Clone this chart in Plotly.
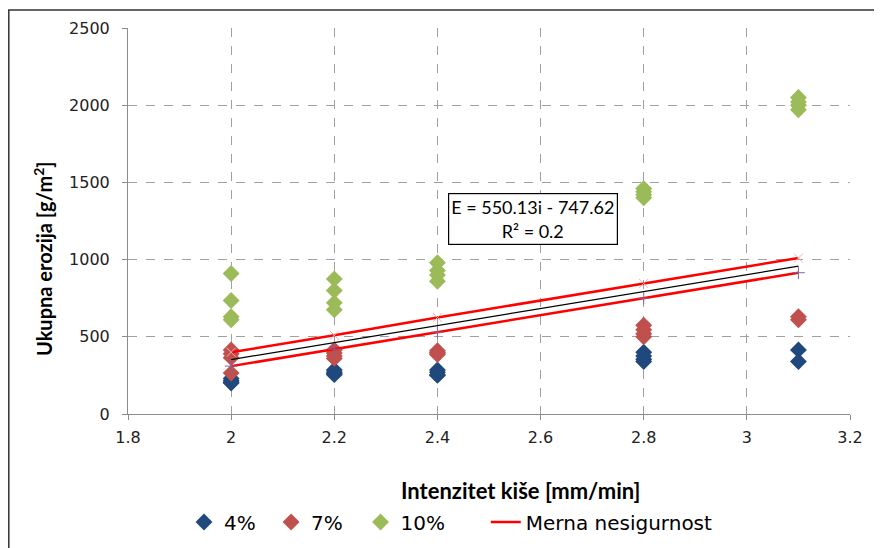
import plotly.graph_objects as go

# ---- data ----
x_4 = [2, 2, 2, 2, 2.2, 2.2, 2.2, 2.2, 2.4, 2.4, 2.4, 2.4, 2.8, 2.8, 2.8, 2.8, 3.1, 3.1]
y_4 = [230, 215, 205, 200, 285, 270, 260, 255, 285, 270, 255, 250, 400, 375, 355, 340, 415, 340]
x_7 = [2, 2, 2, 2, 2.2, 2.2, 2.2, 2.2, 2.4, 2.4, 2.4, 2.4, 2.8, 2.8, 2.8, 2.8, 3.1, 3.1]
y_7 = [415, 390, 365, 265, 415, 395, 375, 360, 410, 400, 395, 385, 575, 545, 520, 500, 630, 610]
x_10 = [2, 2, 2, 2, 2.2, 2.2, 2.2, 2.2, 2.4, 2.4, 2.4, 2.4, 2.8, 2.8, 2.8, 2.8, 3.1, 3.1, 3.1, 3.1]
y_10 = [910, 735, 630, 610, 875, 800, 720, 675, 980, 930, 900, 860, 1460, 1440, 1420, 1400, 2050, 2020, 2000, 1970]

bound_x = [2, 2.2, 2.4, 2.8, 3.1]
upper_y = [400, 510, 625, 845, 1010]
lower_y = [310, 420, 530, 750, 915]

trend_x = [2, 3.1]
trend_y = [352.6, 957.8]

x_ticks = [1.8, 2, 2.2, 2.4, 2.6, 2.8, 3, 3.2]
y_ticks = [0, 500, 1000, 1500, 2000, 2500]

series_names = ["4%", "7%", "10%", "Merna nesigurnost"]

# ---- layout constants (screen pixels of the reference) ----
OFF = 8                     # page body margin
W, H = 882 - OFF, 548 - OFF
L, R, T, B = 128 - OFF, 850 - OFF, 28 - OFF, 414 - OFF

def px(xp):
    return (xp - OFF - L) / (R - L)

def py(yp):
    return (B - (yp - OFF)) / (B - T)

NB = "\u00a0"
legend_pad = [NB + "\u2009", NB * 2, NB * 5 + "\u2009", ""]

fig = go.Figure()

mk = dict(symbol="diamond", size=13, line=dict(width=0))
fig.add_trace(go.Scatter(x=x_4, y=y_4, mode="markers", name=series_names[0] + legend_pad[0],
                         marker=dict(color="#1F497D", **mk)))
fig.add_trace(go.Scatter(x=x_7, y=y_7, mode="markers", name=series_names[1] + legend_pad[1],
                         marker=dict(color="#C0504D", **mk)))
fig.add_trace(go.Scatter(x=x_10, y=y_10, mode="markers", name=series_names[2] + legend_pad[2],
                         marker=dict(color="#9BBB59", **mk)))

fig.add_trace(go.Scatter(x=trend_x, y=trend_y, mode="lines", showlegend=False,
                         line=dict(color="black", width=1.2), hoverinfo="skip"))
fig.add_trace(go.Scatter(x=bound_x, y=upper_y, mode="lines", name=series_names[3],
                         line=dict(color="#FF0000", width=2.5)))
fig.add_trace(go.Scatter(x=bound_x, y=lower_y, mode="lines", showlegend=False,
                         line=dict(color="#FF0000", width=2.5)))
fig.add_trace(go.Scatter(x=bound_x, y=upper_y, mode="markers", showlegend=False,
                         marker=dict(symbol="x-thin", size=9, color="#F4B0B0",
                                     line=dict(width=1, color="#F4B0B0"))))
fig.add_trace(go.Scatter(x=bound_x, y=lower_y, mode="markers", showlegend=False,
                         marker=dict(symbol="cross-thin", size=9, color="#8064A2",
                                     line=dict(width=1, color="#8064A2"))))

tickfont = dict(family="DejaVu Sans", size=16, color="#222222")
fig.update_xaxes(range=[1.8, 3.2], tickvals=x_ticks, ticktext=[str(v) for v in x_ticks],
                 showgrid=True, gridcolor="#A0A0A0", griddash="dash", gridwidth=1,
                 showline=True, linecolor="#8C8C8C", linewidth=1,
                 ticks="outside", ticklen=5, tickcolor="#8C8C8C",
                 zeroline=False, tickfont=tickfont, automargin=False,
                 ticklabelstandoff=4)
fig.update_yaxes(range=[0, 2500], tickvals=y_ticks,
                 showgrid=True, gridcolor="#A0A0A0", griddash="dash", gridwidth=1,
                 showline=True, linecolor="#8C8C8C", linewidth=1,
                 ticks="outside", ticklen=5, tickcolor="#8C8C8C",
                 zeroline=False, tickfont=tickfont, automargin=False,
                 ticklabelstandoff=9)

# axis titles (placed where the reference puts them)
fig.add_annotation(xref="paper", yref="paper", x=px(43), y=py(259),
                   text="<b>Ukupna erozija [g/m<sup>2</sup>]</b>", textangle=-90,
                   showarrow=False, xanchor="center", yanchor="middle",
                   font=dict(family="Lato", size=20, color="black"))
fig.add_annotation(xref="paper", yref="paper", x=px(520), y=py(490),
                   text="<b>Intenzitet kiše [mm/min]</b>",
                   showarrow=False, xanchor="center", yanchor="middle",
                   font=dict(family="Lato", size=22, color="black"))

fig.add_annotation(x=2.585, y=1265, xref="x", yref="y",
                   text="E = 550.13i - 747.62<br>R² = 0.2", showarrow=False,
                   font=dict(family="Lato", size=18, color="black"),
                   bgcolor="white", bordercolor="black", borderwidth=1.2,
                   borderpad=2, align="center")

fig.add_shape(type="rect", xref="paper", yref="paper",
              x0=px(8.8), x1=px(877), y0=py(560), y1=py(10),
              line=dict(color="#333333", width=1.5), layer="below")

fig.update_layout(
    width=W, height=H,
    margin=dict(l=L, r=W - R, t=T, b=H - B, autoexpand=False),
    plot_bgcolor="white", paper_bgcolor="white",
    showlegend=True,
    legend=dict(orientation="h", x=px(184), xanchor="left", y=py(522), yanchor="middle",
                font=dict(family="DejaVu Sans", size=20, color="black"),
                bgcolor="rgba(0,0,0,0)"),
)

fig.write_html("out.html")
